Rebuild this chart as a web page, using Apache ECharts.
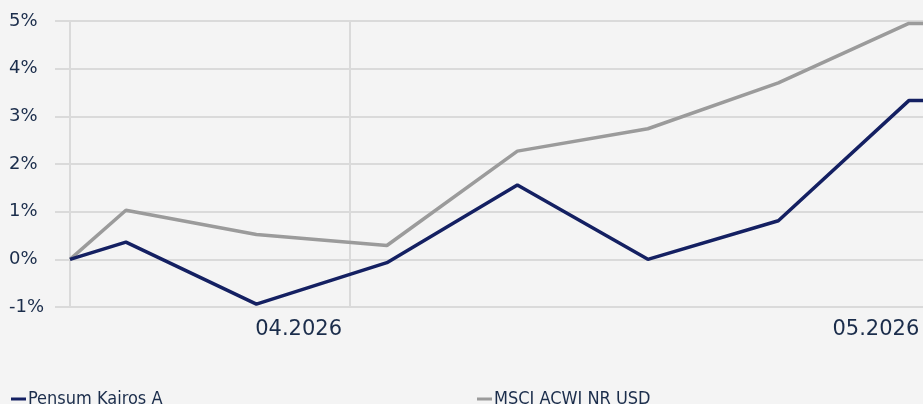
<!DOCTYPE html>
<html>
<head>
<meta charset="utf-8">
<script src="https://cdn.jsdelivr.net/npm/echarts@6/dist/echarts.min.js"></script>
<style>
    html, body { margin: 0; padding: 0; background: #f4f4f4; }
    #chart { width: 923px; height: 404px; }
</style>
</head>
<body>
<div id="chart"></div>
<script>
    var dates = ['2026-03-17', '2026-03-20', '2026-03-27', '2026-04-03', '2026-04-10', '2026-04-17', '2026-04-24', '2026-05-01', '2026-05-02'];
    var kairos = [0, 0.36, -0.94, -0.07, 1.56, 0.0, 0.81, 3.33, 3.33];
    var msci = [0, 1.03, 0.52, 0.29, 2.27, 2.74, 3.70, 4.95, 4.95];
    var monthTicks = ['2026-04-01', '2026-05-01'];
    var seriesNames = ['Pensum Kairos A', 'MSCI ACWI NR USD'];

    var textColor = '#1b2d4b';
    var gridColor = '#dadada';
    var DAY = 24 * 3600 * 1000;

    function ts(s) {
        return new Date(s + 'T00:00:00Z').getTime();
    }

    function pairs(values) {
        var out = [];
        for (var i = 0; i < dates.length; i++) {
            out.push([ts(dates[i]), values[i]]);
        }
        return out;
    }

    var xMin = ts(dates[0]);
    var xMax = ts('2026-05-01') + 0.76 * DAY;

    var chart = echarts.init(document.getElementById('chart'));
    var option = {
        backgroundColor: '#f4f4f4',
        animation: false,
        grid: {
            left: 70,
            right: 0,
            top: 21,
            bottom: 97,
            outerBoundsMode: 'none'
        },
        legend: [{
            left: 6,
            top: 385,
            icon: 'rect',
            itemWidth: 15,
            itemHeight: 3,
            data: [seriesNames[0]],
            textStyle: {color: textColor, fontSize: 18, fontFamily: 'DejaVu Sans Condensed', padding: [0, 0, 0, -3]}
        }, {
            left: 472,
            top: 385,
            icon: 'rect',
            itemWidth: 15,
            itemHeight: 3,
            data: [seriesNames[1]],
            textStyle: {color: textColor, fontSize: 18, fontFamily: 'DejaVu Sans Condensed', padding: [0, 0, 0, -3]}
        }],
        xAxis: {
            type: 'value',
            min: xMin,
            max: xMax,
            axisLine: {show: false},
            axisTick: {
                show: true,
                length: 13,
                customValues: [xMin, ts(monthTicks[0])],
                lineStyle: {color: gridColor, width: 2}
            },
            splitLine: {
                show: true,
                lineStyle: {color: gridColor, width: 2}
            },
            axisLabel: {
                customValues: monthTicks.map(ts),
                margin: 12,
                align: 'center',
                color: textColor,
                fontSize: 21,
                fontFamily: 'DejaVu Sans',
                formatter: function (value) {
                    var d = new Date(value);
                    var m = d.getUTCMonth() + 1;
                    var txt = (m < 10 ? '0' + m : m) + '.' + d.getUTCFullYear();
                    return m === 4 ? '{a|' + txt + '}' : '{b|' + txt + '}';
                },
                rich: {
                    a: {padding: [0, 102, 0, 0], fontSize: 21, color: textColor, fontFamily: 'DejaVu Sans'},
                    b: {padding: [0, 66, 0, 0], fontSize: 21, color: textColor, fontFamily: 'DejaVu Sans'}
                }
            }
        },
        yAxis: {
            type: 'value',
            min: -1,
            max: 5,
            interval: 1,
            axisLine: {show: true, lineStyle: {color: gridColor, width: 2}},
            axisTick: {show: true, length: 15, lineStyle: {color: gridColor, width: 2}},
            splitLine: {lineStyle: {color: gridColor, width: 2}},
            axisLabel: {
                formatter: '{value}%',
                margin: 61,
                align: 'left',
                color: textColor,
                fontSize: 18,
                fontFamily: 'DejaVu Sans'
            }
        },
        series: [{
            name: seriesNames[0],
            type: 'line',
            data: pairs(kairos),
            showSymbol: false,
            color: '#142062',
            lineStyle: {width: 3.5, color: '#142062'},
            z: 3
        }, {
            name: seriesNames[1],
            type: 'line',
            data: pairs(msci),
            showSymbol: false,
            color: '#9b9b9b',
            lineStyle: {width: 3.5, color: '#9b9b9b'},
            z: 2
        }]
    };
    chart.setOption(option);
</script>
</body>
</html>
